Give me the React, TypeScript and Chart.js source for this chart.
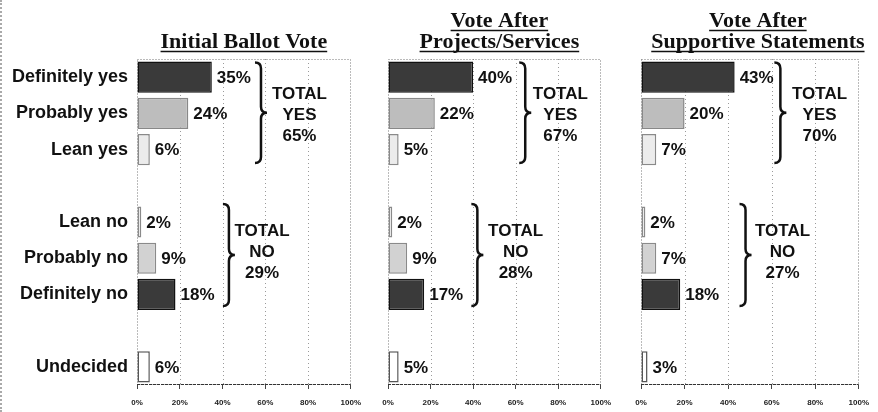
import React, { useEffect, useRef } from 'react';
import { Chart, registerables } from 'chart.js';

Chart.register(...registerables);

// ---- data ----
const categories = ['Definitely yes', 'Probably yes', 'Lean yes', '', 'Lean no', 'Probably no', 'Definitely no', '', 'Undecided'];
const initialBallot = [35, 24, 6, null, 2, 9, 18, null, 6];
const afterProjects = [40, 22, 5, null, 2, 9, 17, null, 5];
const afterStatements = [43, 20, 7, null, 2, 7, 18, null, 3];
const totalYes = [65, 67, 70];
const totalNo = [29, 28, 27];
const xTicks = [0, 20, 40, 60, 80, 100];
const title1 = ['Initial Ballot Vote'];
const title2 = ['Vote After', 'Projects/Services'];
const title3 = ['Vote After', 'Supportive Statements'];

// ---- styles ----
const fills = ['#3a3a3a', '#bdbdbd', '#ececec', '#fff', '#ececec', '#d2d2d2', '#3a3a3a', '#fff', '#ffffff'];
const borders = ['#111', '#888', '#8a8a8a', '#fff', '#8a8a8a', '#8a8a8a', '#111', '#fff', '#555'];
const SANS = '"Liberation Sans", Arial, sans-serif';
const SERIF = '"Liberation Serif", "Times New Roman", serif';

function drawBrace(ctx: CanvasRenderingContext2D, x: number, y1: number, y2: number) {
  const ym = (y1 + y2) / 2;
  const r = 6;
  ctx.beginPath();
  ctx.moveTo(x - r, y1);
  ctx.quadraticCurveTo(x, y1, x, y1 + r);
  ctx.lineTo(x, ym - r);
  ctx.quadraticCurveTo(x, ym, x + r, ym);
  ctx.quadraticCurveTo(x, ym, x, ym + r);
  ctx.lineTo(x, y2 - r);
  ctx.quadraticCurveTo(x, y2, x - r, y2);
  ctx.stroke();
}

const decorPlugin = {
  id: 'panelDecor',
  beforeDatasetsDraw(chart: any) {
    const { ctx, chartArea: a, scales } = chart;
    const x = scales.x;
    ctx.save();
    ctx.lineWidth = 1;
    ctx.setLineDash([1, 3]);
    ctx.strokeStyle = '#9a9a9a';
    xTicks.slice(1, -1).forEach((t) => {
      const px = Math.round(x.getPixelForValue(t)) + 0.5;
      ctx.beginPath();
      ctx.moveTo(px, a.top);
      ctx.lineTo(px, a.bottom);
      ctx.stroke();
    });
    ctx.setLineDash([1, 2]);
    ctx.strokeStyle = '#777';
    ctx.strokeRect(Math.round(a.left) + 0.5, Math.round(a.top) + 0.5, Math.round(a.width) - 1, Math.round(a.height) - 1);
    ctx.setLineDash([3, 1]);
    ctx.strokeStyle = '#333';
    ctx.beginPath();
    ctx.moveTo(a.left, Math.round(a.bottom) - 0.5);
    ctx.lineTo(a.right, Math.round(a.bottom) - 0.5);
    ctx.stroke();
    ctx.restore();
  },
  afterDraw(chart: any, _args: any, opts: any) {
    const { ctx, chartArea: a, scales } = chart;
    const x = scales.x;
    const y = scales.y;
    const values: (number | null)[] = chart.data.datasets[0].data;
    ctx.save();
    // value labels
    const meta = chart.getDatasetMeta(0);
    ctx.font = `bold 17px ${SANS}`;
    ctx.fillStyle = '#111';
    ctx.textAlign = 'left';
    ctx.textBaseline = 'middle';
    meta.data.forEach((bar: any, i: number) => {
      const v = values[i];
      if (v == null) return;
      ctx.fillText(v + '%', bar.x + 5, bar.y + 1);
    });
    // braces + totals
    ctx.strokeStyle = '#111';
    ctx.lineWidth = 2.5;
    ctx.setLineDash([]);
    (opts.braces || []).forEach((b: any) => {
      const bx = x.getPixelForValue(b.x);
      const y1 = y.getPixelForValue(b.from);
      const y2 = y.getPixelForValue(b.to);
      drawBrace(ctx, bx, y1, y2);
      const tx = x.getPixelForValue(b.textX);
      const tc = y.getPixelForValue(b.textAt);
      ctx.font = `bold 17px ${SANS}`;
      ctx.textAlign = 'center';
      ctx.fillStyle = '#111';
      b.lines.forEach((ln: string, k: number) => {
        ctx.fillText(ln, tx, tc + (k - 1) * 21);
      });
    });
    // title
    const cx = (a.left + a.right) / 2 + (opts.titleShift || 0);
    const lines: string[] = opts.title || [];
    ctx.font = `bold 22px ${SERIF}`;
    ctx.textAlign = 'center';
    ctx.textBaseline = 'alphabetic';
    ctx.fillStyle = '#111';
    ctx.lineWidth = 1.5;
    lines.forEach((ln, k) => {
      const by = a.top - 11 - (lines.length - 1 - k) * 21;
      ctx.fillText(ln, cx, by);
      const w = ctx.measureText(ln).width;
      ctx.beginPath();
      ctx.moveTo(cx - w / 2, by + 3.5);
      ctx.lineTo(cx + w / 2, by + 3.5);
      ctx.stroke();
    });
    ctx.restore();
  },
};

type PanelProps = {
  left: number;
  width: number;
  values: (number | null)[];
  title: string[];
  showLabels: boolean;
  yWidth: number;
  padRight: number;
  yes: number;
  no: number;
  yesX: number;
  yesTextX: number;
  noX: number;
  noTextX: number;
  titleShift: number;
};

function Panel(p: PanelProps) {
  const ref = useRef<HTMLCanvasElement | null>(null);
  useEffect(() => {
    if (!ref.current) return;
    const chart = new Chart(ref.current, {
      type: 'bar',
      data: {
        labels: categories,
        datasets: [
          {
            data: p.values as any,
            backgroundColor: fills,
            borderColor: borders,
            borderWidth: 1.5,
            borderSkipped: false,
            categoryPercentage: 1,
            barPercentage: 0.86,
          },
        ],
      },
      plugins: [decorPlugin],
      options: {
        responsive: false,
        animation: false,
        indexAxis: 'y',
        layout: { padding: { top: 59, right: p.padRight, left: 0, bottom: 0 } },
        plugins: {
          legend: { display: false },
          tooltip: { enabled: false },
          title: { display: false },
          panelDecor: {
            title: p.title,
            titleShift: p.titleShift,
            braces: [
              { x: p.yesX, from: -0.4, to: 2.37, textX: p.yesTextX, textAt: 1.05, lines: ['TOTAL', 'YES', p.yes + '%'] },
              { x: p.noX, from: 3.5, to: 6.32, textX: p.noTextX, textAt: 4.85, lines: ['TOTAL', 'NO', p.no + '%'] },
            ],
          },
        } as any,
        scales: {
          x: {
            type: 'linear',
            min: 0,
            max: 100,
            afterBuildTicks: (s: any) => {
              s.ticks = xTicks.map((v) => ({ value: v }));
            },
            ticks: {
              callback: (v: any) => v + '%',
              font: { size: 8, weight: 'bold', family: SANS },
              color: '#222',
              padding: 9,
              maxRotation: 0,
              autoSkip: false,
            },
            grid: { display: true, drawOnChartArea: false, drawTicks: true, tickLength: 4, color: '#444' },
            border: { display: false },
            afterFit: (s: any) => {
              s.height = 27;
            },
          },
          y: {
            type: 'category',
            ticks: {
              display: p.showLabels,
              font: { size: 18, weight: 'bold', family: SANS },
              color: '#111',
              padding: 9,
              autoSkip: false,
            },
            grid: { display: false, drawTicks: false },
            border: { display: false },
            afterFit: (s: any) => {
              s.width = p.yWidth;
            },
          },
        } as any,
      },
    });
    return () => chart.destroy();
  }, []);
  return (
    <canvas
      ref={ref}
      width={p.width}
      height={412}
      style={{ position: 'absolute', left: p.left, top: 0, width: p.width, height: 412, display: 'block' }}
    />
  );
}

export default function App() {
  return (
    <div style={{ position: 'fixed', left: 0, top: 0, width: 878, height: 412, background: '#fff', overflow: 'hidden' }}>
      <div style={{ position: 'absolute', left: 0, top: 0, width: 0, height: 412, borderLeft: '2px dotted #aaa' }} />
      <Panel left={0} width={370} values={initialBallot} title={title1} showLabels={true} yWidth={137} padRight={16}
        yes={totalYes[0]} no={totalNo[0]} yesX={58} yesTextX={76} noX={43} noTextX={58.5} titleShift={0} />
      <Panel left={370} width={250} values={afterProjects} title={title2} showLabels={false} yWidth={18} padRight={15}
        yes={totalYes[1]} no={totalNo[1]} yesX={64.5} yesTextX={81} noX={42} noTextX={60} titleShift={5} />
      <Panel left={620} width={258} values={afterStatements} title={title3} showLabels={false} yWidth={21} padRight={18}
        yes={totalYes[2]} no={totalNo[2]} yesX={64} yesTextX={82} noX={48} noTextX={65} titleShift={8} />
    </div>
  );
}
